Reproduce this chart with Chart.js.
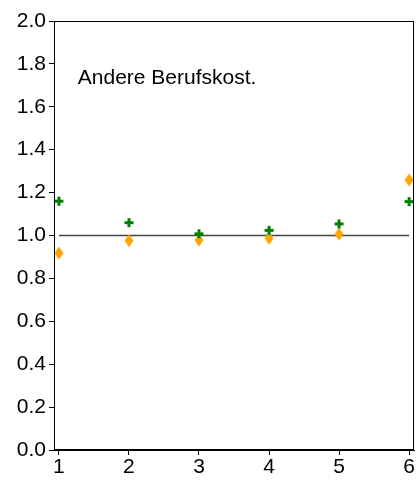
<!DOCTYPE html>
<html>
<head>
<meta charset="utf-8">
<script src="https://cdn.jsdelivr.net/npm/chart.js@4"></script>
<style>
  html, body { margin: 0; padding: 0; background: #fff; }
  #wrap { width: 419px; height: 482px; }
</style>
</head>
<body>
<div id="wrap"><canvas id="chart" width="419" height="482"></canvas></div>
<script>
  // data
  const xCats      = [1, 2, 3, 4, 5, 6];
  const greenVals  = [1.16, 1.06, 1.008, 1.024, 1.054, 1.158];
  const orangeVals = [0.918, 0.976, 0.979, 0.987, 1.006, 1.259];
  const refLine    = [1, 1];
  const yTicks     = [0.0, 0.2, 0.4, 0.6, 0.8, 1.0, 1.2, 1.4, 1.6, 1.8, 2.0];
  const panelTitle = 'Andere Berufskost.';

  const FONT = "'Liberation Sans', Arial, sans-serif";

  // marker images
  function crossImg() {
    const c = document.createElement('canvas');
    c.width = 11; c.height = 11;
    const g = c.getContext('2d');
    g.fillStyle = '#008000';
    g.fillRect(4, 1, 3, 9);
    g.fillRect(1, 4, 9, 3);
    return c;
  }
  function diamondImg() {
    const c = document.createElement('canvas');
    c.width = 10; c.height = 14;
    const g = c.getContext('2d');
    g.fillStyle = '#FFA500';
    g.beginPath();
    g.moveTo(5, 0.5); g.lineTo(9.5, 7); g.lineTo(5, 13.5); g.lineTo(0.5, 7);
    g.closePath(); g.fill();
    return c;
  }

  const boxPlugin = {
    id: 'box',
    afterDatasetsDraw(chart) {
      const { ctx, chartArea: a, scales } = chart;
      ctx.save();
      ctx.strokeStyle = '#000';
      ctx.lineWidth = 1;
      ctx.strokeRect(a.left + 0.5, a.top + 0.5, a.right - a.left - 1, a.bottom - a.top - 1);
      ctx.fillStyle = '#000';
      ctx.font = '21px ' + FONT;
      ctx.textBaseline = 'middle';
      ctx.fillText(panelTitle, scales.x.getPixelForValue(1.27), scales.y.getPixelForValue(1.734));
      ctx.restore();
    }
  };

  new Chart(document.getElementById('chart'), {
    type: 'scatter',
    data: {
      datasets: [
        {
          type: 'line',
          data: refLine.map((v, i) => ({ x: i === 0 ? xCats[0] : xCats[xCats.length - 1], y: v })),
          borderColor: '#444',
          borderWidth: 1.3,
          pointRadius: 0,
          order: 3
        },
        {
          data: orangeVals.map((v, i) => ({ x: xCats[i], y: v })),
          pointStyle: diamondImg(),
          order: 2
        },
        {
          data: greenVals.map((v, i) => ({ x: xCats[i], y: v })),
          pointStyle: crossImg(),
          order: 1
        }
      ]
    },
    options: {
      responsive: false,
      animation: false,
      layout: { padding: { top: 21, right: 5, left: 0, bottom: 0 } },
      plugins: { legend: { display: false }, tooltip: { enabled: false } },
      scales: {
        x: {
          type: 'linear',
          min: 0.93,
          max: 6.07,
          afterBuildTicks: s => { s.ticks = xCats.map(v => ({ value: v })); },
          afterFit: s => { s.height = 32; },
          grid: { drawOnChartArea: false, tickLength: 5, color: '#000' },
          border: { color: '#000' },
          ticks: {
            color: '#000',
            font: { size: 21, family: FONT },
            padding: 0,
            maxRotation: 0,
            callback: v => String(v)
          }
        },
        y: {
          min: 0,
          max: 2,
          afterBuildTicks: s => { s.ticks = yTicks.map(v => ({ value: v })); },
          afterFit: s => { s.width = 54; },
          grid: { drawOnChartArea: false, tickLength: 5, color: '#000' },
          border: { color: '#000' },
          ticks: {
            color: '#000',
            font: { size: 21, family: FONT },
            padding: 3,
            callback: v => Number(v).toFixed(1)
          }
        }
      }
    },
    plugins: [boxPlugin]
  });
</script>
</body>
</html>
